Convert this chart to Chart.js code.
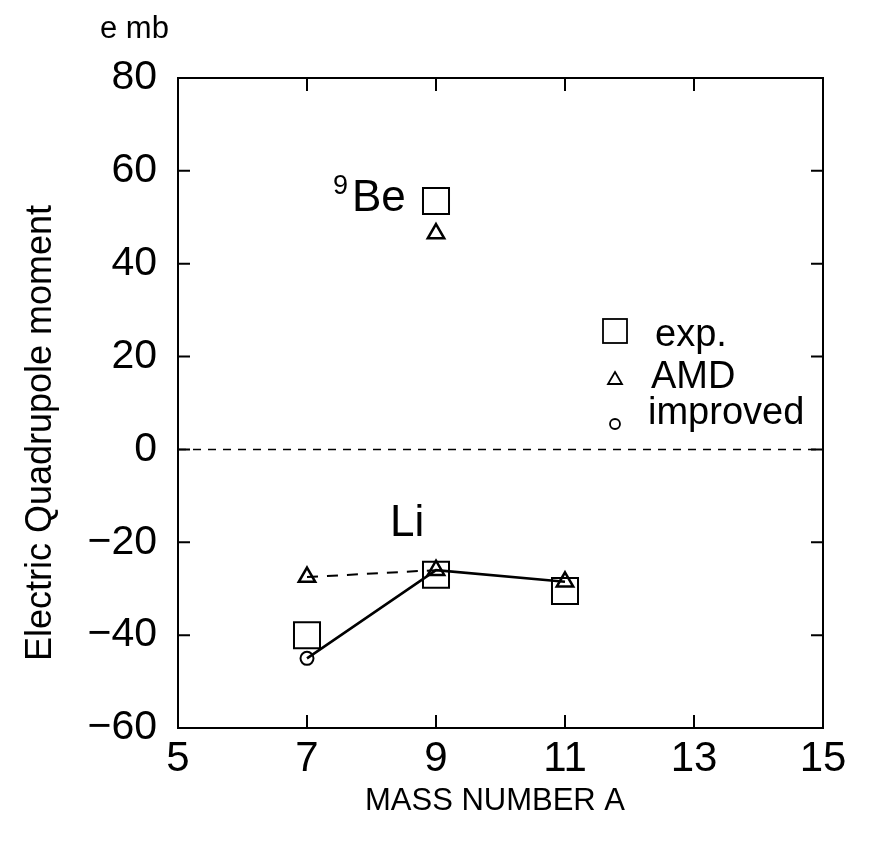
<!DOCTYPE html>
<html>
<head>
<meta charset="utf-8">
<script src="https://cdn.jsdelivr.net/npm/chart.js@4.4.1/dist/chart.umd.min.js"></script>
<style>
  html, body { margin: 0; padding: 0; background: #fff; }
  #wrap { width: 884px; height: 843px; }
</style>
</head>
<body>
<div id="wrap"><canvas id="myChart" width="884" height="843"></canvas></div>
<script>
// mass numbers and values (e mb)
const massLi = [7, 9, 11];
const expLi = [-40, -27, -30.5];
const amdLi = [-27.5, -26, -28.5];
const improvedLi = [-45, -26, -28.5];
const massBe = [9];
const expBe = [53.5];
const amdBe = [46.5];
const zeroX = [5, 15];
const zeroY = [0, 0];
const xTicks = [5, 7, 9, 11, 13, 15];
const yTicks = [80, 60, 40, 20, 0, -20, -40, -60];

const pts = (xs, ys) => xs.map((x, i) => ({x: x, y: ys[i]}));
const FONT = "'Liberation Sans', Arial, sans-serif";

// frame, inward ticks, titles, labels and legend
const decor = {
  id: 'decor',
  afterDatasetsDraw(chart) {
    const ctx = chart.ctx;
    const a = chart.chartArea;
    const xs = chart.scales.x, ys = chart.scales.y;
    ctx.save();
    ctx.strokeStyle = '#000';
    ctx.lineWidth = 2;
    ctx.strokeRect(a.left, a.top, a.right - a.left, a.bottom - a.top);
    ctx.beginPath();
    [7, 9, 11, 13].forEach(v => {
      const px = xs.getPixelForValue(v);
      ctx.moveTo(px, a.bottom); ctx.lineTo(px, a.bottom - 13);
      ctx.moveTo(px, a.top); ctx.lineTo(px, a.top + 13);
    });
    [60, 40, 20, 0, -20, -40].forEach(v => {
      const py = ys.getPixelForValue(v);
      ctx.moveTo(a.left, py); ctx.lineTo(a.left + 12, py);
      ctx.moveTo(a.right, py); ctx.lineTo(a.right - 12, py);
    });
    ctx.stroke();

    ctx.fillStyle = '#000';
    // axis titles
    ctx.font = '31px ' + FONT;
    ctx.textAlign = 'center';
    ctx.textBaseline = 'middle';
    ctx.fillText('MASS NUMBER A', 495, 801);
    ctx.save();
    ctx.translate(41, 433);
    ctx.rotate(-Math.PI / 2);
    ctx.font = '36px ' + FONT;
    ctx.fillText('Electric Quadrupole moment', 0, 0);
    ctx.restore();
    ctx.textAlign = 'left';
    ctx.textBaseline = 'alphabetic';
    ctx.font = '31px ' + FONT;
    ctx.fillText('e mb', 100, 38);

    // nucleus labels
    ctx.font = '44px ' + FONT;
    ctx.fillText('Be', 352, 211);
    ctx.font = '27px ' + FONT;
    ctx.fillText('9', 333, 194);
    ctx.font = '44px ' + FONT;
    ctx.fillText('Li', 390, 536);

    // legend
    ctx.font = '38px ' + FONT;
    const lx = 615;
    ctx.fillText('exp.', 655, 346);
    ctx.fillText('AMD', 651, 388);
    ctx.fillText('improved', 648, 424);
    ctx.lineWidth = 1.8;
    ctx.strokeRect(lx - 12, 319, 24, 24);
    ctx.beginPath();
    ctx.moveTo(lx, 372); ctx.lineTo(lx + 7, 384); ctx.lineTo(lx - 7, 384); ctx.closePath();
    ctx.stroke();
    ctx.beginPath();
    ctx.arc(lx, 424, 5, 0, Math.PI * 2);
    ctx.stroke();
    ctx.restore();
  }
};

new Chart(document.getElementById('myChart'), {
  type: 'scatter',
  data: {
    datasets: [
      {
        label: 'zero',
        data: pts(zeroX, zeroY),
        showLine: true,
        borderColor: '#000',
        borderWidth: 1.5,
        borderDash: [8, 7],
        pointRadius: 0
      },
      {
        label: 'AMD line',
        data: pts(massLi.slice(0, 2), amdLi.slice(0, 2)),
        showLine: true,
        borderColor: '#000',
        borderWidth: 2,
        borderDash: [11, 9],
        pointRadius: 0
      },
      {
        label: 'improved',
        data: pts(massLi, improvedLi),
        showLine: true,
        borderColor: '#000',
        borderWidth: 2.5,
        pointStyle: 'circle',
        pointRadius: [6.5, 0, 0],
        pointBorderWidth: 2,
        pointBackgroundColor: 'rgba(0,0,0,0)',
        pointBorderColor: '#000'
      },
      {
        label: 'exp.',
        data: pts(massLi, expLi).concat(pts(massBe, expBe)),
        pointStyle: 'rect',
        rotation: 0,
        pointRadius: 18.4,
        pointBorderWidth: 2,
        pointBackgroundColor: 'rgba(0,0,0,0)',
        pointBorderColor: '#000'
      },
      {
        label: 'AMD',
        data: pts(massLi, amdLi).concat(pts(massBe, amdBe)),
        pointStyle: 'triangle',
        pointRadius: 9.5,
        pointBorderWidth: 2.5,
        pointBackgroundColor: 'rgba(0,0,0,0)',
        pointBorderColor: '#000'
      }
    ]
  },
  options: {
    responsive: false,
    animation: false,
    layout: { padding: { left: 0, right: 61, top: 78, bottom: 0 } },
    plugins: { legend: { display: false }, tooltip: { enabled: false } },
    scales: {
      x: {
        type: 'linear',
        min: 5, max: 15,
        afterBuildTicks: s => { s.ticks = xTicks.map(v => ({value: v})); },
        afterFit: s => { s.height = 115; },
        grid: { display: false },
        border: { display: false },
        ticks: { color: '#000', font: { family: FONT, size: 42 }, padding: -2 }
      },
      y: {
        type: 'linear',
        min: -60, max: 80,
        afterBuildTicks: s => { s.ticks = yTicks.map(v => ({value: v})); },
        afterFit: s => { s.width = 178; },
        grid: { display: false },
        border: { display: false },
        ticks: {
          color: '#000',
          font: { family: FONT, size: 41 },
          padding: 13,
          callback: v => String(v).replace('-', '\u2212')
        }
      }
    }
  },
  plugins: [decor]
});
</script>
</body>
</html>
